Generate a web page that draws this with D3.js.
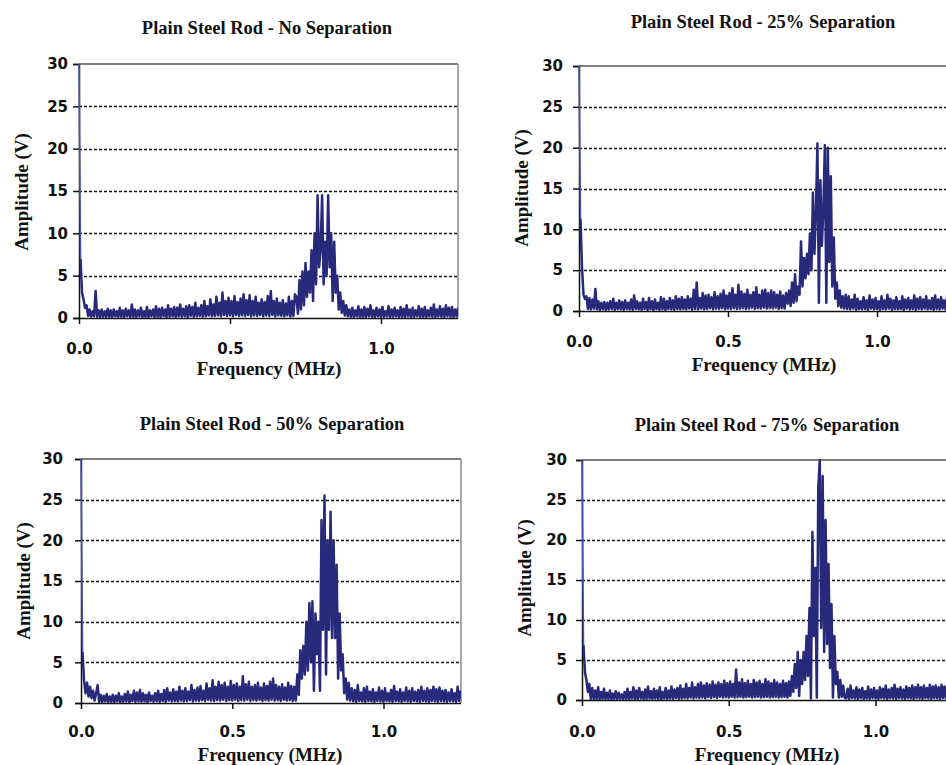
<!DOCTYPE html>
<html><head><meta charset="utf-8">
<script src="https://cdn.jsdelivr.net/npm/d3@7"></script>
<style>body{margin:0;background:#fff;} svg{display:block;}</style>
</head><body>
<svg id="c" width="946" height="765"></svg>
<script>
// ---------- DATA ----------
const freqStep = 0.005; // MHz between samples
const titles = ["Plain Steel Rod - No Separation","Plain Steel Rod - 25% Separation","Plain Steel Rod - 50% Separation","Plain Steel Rod - 75% Separation"];
const xLabel = "Frequency (MHz)";
const yLabel = "Amplitude (V)";
const yTicks = [0,5,10,15,20,25,30];
const xTicks = [0.0,0.5,1.0];
const gridValues = [5,10,15,20,25];

const ampNoSep = [
30,7,3,2.2,1.2,1.5,0.25,1.0,0.15,0.8,
0.2,3.2,0.15,0.9,0.1,1.0,0.15,0.8,0.1,1.1,
0.15,0.9,0.1,1.0,0.2,0.8,0.1,1.2,0.15,0.9,
0.1,1.1,0.2,0.9,0.1,1.6,0.15,1.0,0.1,0.9,
0.2,1.2,0.1,0.8,0.15,1.3,0.1,0.9,0.2,1.0,
0.1,1.4,0.15,1.1,0.1,1.2,0.2,1.0,0.1,1.5,
0.15,1.1,0.2,1.3,0.1,1.2,0.2,1.6,0.15,1.1,
0.2,1.4,0.1,1.5,0.25,1.3,0.15,1.8,0.2,1.2,
0.25,1.5,0.15,2.0,0.2,1.4,0.3,2.2,0.2,1.6,
0.25,2.5,0.3,1.8,0.2,3.0,0.35,2.0,0.25,2.4,
0.3,2.0,0.2,2.6,0.35,1.9,0.25,2.3,0.3,2.8,
0.25,2.1,0.35,2.7,0.2,2.0,0.3,2.5,0.25,1.8,
0.35,2.2,0.2,1.9,0.3,2.6,0.25,3.2,0.35,2.0,
0.2,2.3,0.3,1.8,0.25,2.1,0.2,1.7,0.3,2.5,
0.15,2.0,0.25,2.8,2.5,0.5,4.5,1.0,5.5,1.5,
6.5,2.5,5.5,3.0,8.0,2.0,10.0,4.0,14.5,6.0,
8.0,14.5,4.0,9.0,5.0,14.5,6.0,10.0,2.0,9.0,
3.0,5.0,1.0,3.0,0.6,2.0,0.3,1.5,0.2,1.0,
0.15,1.2,0.1,0.9,0.2,1.4,0.1,1.0,0.15,1.3,
0.1,1.1,0.2,1.5,0.15,0.9,0.1,1.2,0.2,1.0,
0.1,1.3,0.15,0.8,0.2,1.4,0.1,1.0,0.15,1.2,
0.2,0.9,0.1,1.3,0.15,1.1,0.1,1.5,0.2,1.0,
0.1,1.2,0.15,0.9,0.2,1.4,0.1,1.1,0.15,1.3,
0.1,0.9,0.2,1.2,0.15,1.6,0.1,1.0,0.2,1.4,
0.15,1.1,0.1,1.5,0.2,1.2,0.15,1.3,0.1,1.0,
0.2,1.2];

const amp25 = [
30,11.3,5.4,2.0,1.5,1.8,0.25,1.6,0.2,1.4,
0.3,2.7,0.2,1.2,0.15,1.0,0.2,1.1,0.15,1.0,
0.2,1.2,0.25,1.5,0.15,1.0,0.25,1.3,0.2,1.1,
0.15,1.3,0.25,1.0,0.2,1.4,0.15,1.9,0.25,1.2,
0.2,1.0,0.15,1.5,0.25,1.1,0.15,1.6,0.2,1.2,
0.1,1.4,0.25,1.0,0.15,1.7,0.2,1.5,0.1,1.2,
0.25,1.6,0.2,1.3,0.15,1.8,0.25,1.5,0.2,1.7,
0.25,1.4,0.2,1.8,0.3,1.5,0.15,2.6,0.25,3.5,
0.2,1.6,0.3,2.2,0.2,1.9,0.25,2.0,0.35,1.7,
0.2,2.3,0.3,1.8,0.25,2.1,0.35,2.5,0.2,1.9,
0.3,2.2,0.25,2.8,0.35,2.0,0.25,3.2,0.3,2.4,
0.35,2.1,0.25,2.6,0.3,2.0,0.4,2.3,0.25,2.9,
0.35,2.0,0.3,2.5,0.4,2.6,0.3,2.2,0.35,2.5,
0.3,2.3,0.4,2.0,0.25,2.4,0.35,1.9,0.3,2.2,
0.9,2.5,0.6,3.5,1.0,4.5,1.2,3.0,2.0,8.5,
3.0,6.5,4.0,7.0,4.5,9.5,5.0,14.5,7.0,12.0,
20.5,1.0,16.0,8.0,12.5,20.3,1.0,20.0,6.0,16.5,
3.0,9.0,1.5,3.5,0.6,2.5,0.4,1.8,0.3,2.0,
0.25,1.8,0.2,1.4,0.3,2.0,0.15,1.5,0.25,1.2,
0.2,1.7,0.25,1.3,0.15,1.9,0.3,1.4,0.2,1.6,
0.25,1.2,0.15,1.8,0.25,1.3,0.2,2.0,0.3,1.5,
0.15,1.3,0.25,1.7,0.2,1.2,0.25,1.8,0.15,1.4,
0.3,1.6,0.2,1.3,0.25,1.9,0.15,1.5,0.25,1.7,
0.2,1.4,0.3,1.8,0.2,1.3,0.25,1.6,0.15,1.9,
0.25,1.4,0.2,1.7,0.3,1.3,0.2,1.8,0.25,1.5,
0.2,1.6];

const amp50 = [
30,6.3,2.8,1.2,2.5,0.8,2.0,0.6,1.5,0.3,
1.2,2.2,0.15,1.0,0.1,0.9,0.2,1.1,0.1,0.8,
0.15,1.0,0.1,0.9,0.2,1.2,0.1,0.8,0.15,1.1,
0.2,1.4,0.1,1.0,0.25,1.5,0.15,1.3,0.2,1.6,
0.15,1.2,0.2,1.0,0.1,1.3,0.25,0.9,0.15,1.2,
0.2,1.5,0.15,1.1,0.25,1.6,0.15,1.8,0.3,1.3,
0.2,1.7,0.25,1.4,0.2,2.0,0.3,1.5,0.2,1.8,
0.25,1.4,0.35,2.2,0.2,1.6,0.3,1.9,0.25,2.1,
0.35,1.5,0.25,2.4,0.4,1.8,0.3,2.8,0.25,2.0,
0.35,2.6,0.3,2.2,0.4,2.5,0.25,2.0,0.35,2.7,
0.3,2.2,0.4,2.4,0.25,2.0,0.35,3.3,0.3,2.3,
0.4,2.6,0.25,2.0,0.35,2.2,0.3,2.5,0.4,1.9,
0.25,2.4,0.35,2.1,0.3,2.6,0.4,3.0,0.3,2.2,
0.35,2.0,0.25,2.3,0.4,1.9,0.3,2.5,0.35,2.1,
0.25,2.0,0.3,3.5,1.0,6.5,3.0,7.0,3.5,10.0,
4.0,12.3,5.0,12.5,1.5,11.0,6.0,10.0,1.5,22.5,
9.0,25.5,3.5,20.0,9.0,23.5,8.0,20.0,8.0,17.0,
3.0,11.0,4.0,6.0,1.2,3.0,0.4,2.5,0.3,1.8,
0.2,1.6,0.15,2.2,0.25,1.3,0.2,1.8,0.15,2.0,
0.25,1.4,0.2,1.7,0.15,1.3,0.25,1.9,0.2,1.5,
0.15,1.8,0.25,1.2,0.2,1.6,0.15,2.1,0.25,1.4,
0.2,1.7,0.15,1.3,0.25,1.9,0.2,1.5,0.15,1.8,
0.25,1.4,0.2,1.6,0.15,2.0,0.25,1.5,0.2,1.8,
0.15,1.6,0.25,2.0,0.2,1.7,0.15,1.9,0.25,1.5,
0.2,1.6,0.15,1.3,0.25,1.7,0.2,1.2,0.15,2.0,
0.25,1.5];

const amp75 = [
30,6.9,3.5,2.5,1.0,2.0,0.15,1.5,0.1,1.2,
0.15,1.6,0.1,1.0,0.15,1.4,0.1,0.9,0.15,1.2,
0.1,0.8,0.15,1.1,0.1,0.9,0.15,0.7,0.1,1.0,
0.15,1.4,0.1,1.0,0.2,1.6,0.1,1.2,0.15,1.5,
0.2,1.0,0.1,1.3,0.15,1.7,0.2,1.1,0.1,1.4,
0.2,1.2,0.15,1.6,0.1,1.0,0.2,1.5,0.15,1.2,
0.2,1.7,0.15,1.3,0.25,1.5,0.15,1.8,0.2,1.4,
0.25,2.0,0.2,1.5,0.3,2.2,0.2,1.6,0.3,2.0,
0.25,2.2,0.3,1.8,0.2,2.1,0.35,1.9,0.25,2.3,
0.35,1.9,0.25,2.2,0.4,2.0,0.3,2.4,0.35,2.1,
0.3,2.3,0.4,2.0,0.3,3.8,0.35,2.2,0.4,2.6,
0.3,2.1,0.35,2.4,0.4,2.0,0.3,2.5,0.35,2.2,
0.4,2.4,0.3,2.0,0.35,2.6,0.4,2.3,0.3,2.1,
0.35,2.5,0.4,2.2,0.3,2.0,0.35,2.4,0.4,2.1,
0.3,2.3,0.5,3.0,1.0,4.5,1.5,6.0,0.5,5.0,
2.0,6.0,2.5,8.0,3.0,11.5,0.2,21.0,8.0,16.5,
0.3,26.5,30.0,9.0,28.0,6.0,22.5,7.0,17.0,4.0,
12.0,0.3,8.0,2.0,3.5,0.3,2.5,0.4,1.8,0.3,
0.2,1.4,0.15,1.8,0.25,1.2,0.2,1.6,0.15,1.3,
0.25,1.5,0.15,1.1,0.2,1.7,0.15,1.3,0.25,1.5,
0.2,1.2,0.15,1.6,0.25,1.4,0.2,1.8,0.15,1.3,
0.25,1.5,0.2,1.9,0.15,1.4,0.25,1.6,0.2,1.3,
0.15,1.7,0.25,1.5,0.2,1.8,0.15,1.6,0.25,1.9,
0.2,1.6,0.15,1.8,0.25,1.5,0.2,1.9,0.15,1.7,
0.25,1.8,0.2,1.6,0.15,1.9,0.25,1.7,0.2,1.8,
0.15,1.6];

const seriesList = [ampNoSep, amp25, amp50, amp75];

// ---------- LAYOUT ----------
const panels = [
  {left:79, right:458, top:64, bottom:318, ppm:302, title:[267,34], yTickX:68, xTickY:354, xLab:[269,375], yLab:[28,192]},
  {left:579, right:960, top:66, bottom:311, ppm:298, title:[763,28], yTickX:563, xTickY:347, xLab:[764,371], yLab:[528,188]},
  {left:81, right:461, top:459, bottom:703, ppm:302.5, title:[272,430], yTickX:63, xTickY:737, xLab:[270,761], yLab:[30,581]},
  {left:582, right:960, top:460, bottom:700, ppm:293.5, title:[767,431], yTickX:567, xTickY:737, xLab:[767,761], yLab:[531,578]}
];

const svg = d3.select("#c");
const serif = "'Liberation Serif','Times New Roman',serif";
const sans = "'DejaVu Sans',Verdana,sans-serif";
const lineColor = "#27297a";

panels.forEach((p, k) => {
  const g = svg.append("g");
  const x = d3.scaleLinear().domain([0,1]).range([p.left, p.left + p.ppm]);
  const y = d3.scaleLinear().domain([0,30]).range([p.bottom, p.top]);

  g.append("line").attr("x1",p.left).attr("x2",p.right).attr("y1",p.top).attr("y2",p.top)
    .attr("stroke","#555").attr("stroke-width",1.6);
  g.append("line").attr("x1",p.right).attr("x2",p.right).attr("y1",p.top).attr("y2",p.bottom)
    .attr("stroke","#888").attr("stroke-width",1.5);

  g.selectAll(".grid").data(gridValues).enter().append("line")
    .attr("x1",p.left).attr("x2",p.right)
    .attr("y1",d=>Math.round(y(d))+0.5).attr("y2",d=>Math.round(y(d))+0.5)
    .attr("stroke","#111").attr("stroke-width",1.3).attr("stroke-dasharray","3,2");

  const cid = "clip"+k;
  svg.append("clipPath").attr("id",cid).append("rect")
    .attr("x",p.left-2).attr("y",p.top-1).attr("width",p.right-p.left+2).attr("height",p.bottom-p.top+1);

  // axes first so the trace draws on top
  const yAxis = d3.axisLeft(y).tickValues(yTicks).tickSize(6).tickPadding(4).tickFormat(d3.format("d"));
  const ya = g.append("g").attr("transform","translate("+p.left+",0)").call(yAxis);
  ya.select(".domain").attr("stroke","#111").attr("stroke-width",1.5);
  ya.selectAll(".tick line").attr("stroke","#111").attr("stroke-width",1.5);
  ya.selectAll(".tick text").attr("x",p.yTickX - p.left)
    .attr("font-family",sans).attr("font-weight","bold").attr("font-size",15).attr("fill","#111");

  const xAxis = d3.axisBottom(x).tickValues(xTicks).tickSize(6).tickFormat(d3.format(".1f"));
  const xa = g.append("g").attr("transform","translate(0,"+p.bottom+")").call(xAxis);
  xa.select(".domain").attr("d","M"+p.left+",0.5H"+p.right).attr("stroke","#111").attr("stroke-width",1.5);
  xa.selectAll(".tick line").attr("stroke","#111").attr("stroke-width",1.5);
  xa.selectAll(".tick text").attr("y",p.xTickY - p.bottom).attr("dy",null)
    .attr("font-family",sans).attr("font-weight","bold").attr("font-size",15).attr("fill","#111");

  const data = seriesList[k];
  const pts = data.map((d,i)=>[i*freqStep, d]);
  const line = d3.line().x(d=>x(d[0])).y(d=>y(d[1]));
  // thin DC spike (first sample)
  g.append("path").datum(pts.slice(0,2)).attr("clip-path","url(#"+cid+")")
    .attr("d",line).attr("fill","none").attr("stroke","#4650b0").attr("stroke-width",1.6);
  g.append("path").datum(pts.slice(1)).attr("clip-path","url(#"+cid+")")
    .attr("d",line).attr("fill","none").attr("stroke",lineColor)
    .attr("stroke-width",2.5).attr("stroke-linejoin","round");

  g.append("text").attr("x",p.title[0]).attr("y",p.title[1]).attr("text-anchor","middle")
    .attr("font-family",serif).attr("font-weight","bold").attr("font-size",18.5).attr("fill","#111")
    .text(titles[k]);
  g.append("text").attr("x",p.xLab[0]).attr("y",p.xLab[1]).attr("text-anchor","middle")
    .attr("font-family",serif).attr("font-weight","bold").attr("font-size",19).attr("fill","#111")
    .text(xLabel);
  g.append("text").attr("transform","translate("+p.yLab[0]+","+p.yLab[1]+") rotate(-90)")
    .attr("text-anchor","middle")
    .attr("font-family",serif).attr("font-weight","bold").attr("font-size",19).attr("fill","#111")
    .text(yLabel);
});
</script>
</body></html>
